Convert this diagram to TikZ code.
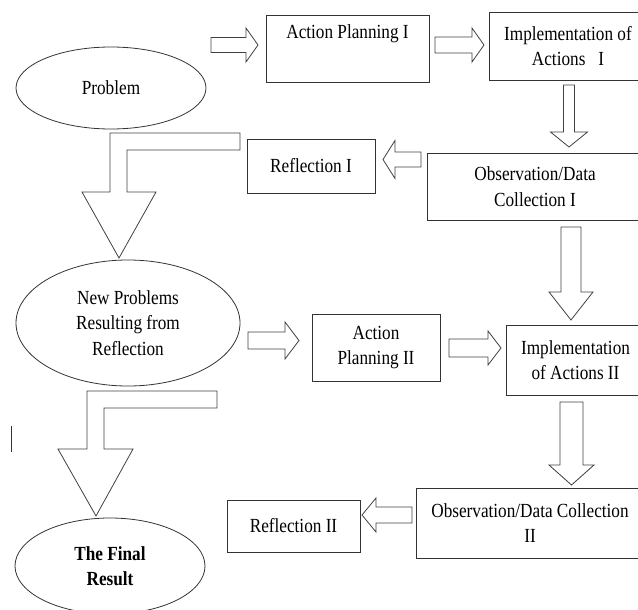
\documentclass[tikz,border=0pt]{standalone}
\usepackage{fontspec}
\setmainfont{Liberation Serif}[FakeStretch=0.86]
\usetikzlibrary{shapes.geometric}

% hollow block arrow: start, angle, length, shaft half, head half, head length
\newcommand{\bigarrow}[6]{%
  \draw[arrowline, shift={#1}, rotate=#2] (0,-#4) -- ({#3-#6},-#4) -- ({#3-#6},-#5) -- (#3,0)
    -- ({#3-#6},#5) -- ({#3-#6},#4) -- (0,#4) -- cycle;}

\begin{document}
\begin{tikzpicture}[x=1pt, y=-1pt,
    font=\fontsize{20}{25.5}\selectfont,
    box/.style={rectangle, draw=black!80, line width=0.8pt, align=center, inner sep=0pt},
    oval/.style={ellipse, draw=black!80, line width=0.8pt, align=center, inner sep=0pt},
    arrowline/.style={draw=black!75, line width=0.8pt, line join=miter}]
    \useasboundingbox (0,0) rectangle (638,610);
    \clip (0,0) rectangle (638,610);
    % ovals
    \node[oval, minimum width=190pt, minimum height=82pt] (prob) at (111,88) {Problem};
    \node[oval, minimum width=224pt, minimum height=126pt] (newprob) at (128,323) {New Problems\\Resulting from\\Reflection};
    \node[oval, minimum width=190pt, minimum height=96pt, font=\fontsize{20}{25.5}\selectfont\bfseries] (final) at (110,566) {The Final\\Result};
    % first cycle
    \node[box, minimum width=163pt, minimum height=67pt] (plan1) at (347.5,48.5) {Action Planning I\\ \strut};
    \node[box, minimum width=158pt, minimum height=68pt] (impl1) at (568,46) {Implementation of\\Actions~~~I};
    \node[box, minimum width=216pt, minimum height=67pt] (obs1) at (535,186.5) {Observation/Data\\Collection I};
    \node[box, minimum width=128pt, minimum height=54pt] (refl1) at (311,166) {Reflection I};
    % second cycle
    \node[box, minimum width=128pt, minimum height=67pt] (plan2) at (376,347.5) {Action\\Planning II};
    \node[box, minimum width=139pt, minimum height=70pt] (impl2) at (575.5,360) {Implementation\\of Actions II};
    \node[box, minimum width=228pt, minimum height=70pt] (obs2) at (530,523) {Observation/Data Collection\\II};
    \node[box, minimum width=133pt, minimum height=52pt] (refl2) at (293.5,526) {Reflection II};
    % block arrows
    \bigarrow{(211,45)}{0}{47}{7.5}{17}{12}
    \bigarrow{(435,45)}{0}{49}{8}{17}{12}
    \bigarrow{(569,85)}{-90}{62}{5.5}{18.5}{15}
    \bigarrow{(421,159.5)}{180}{38}{7.5}{19}{12}
    \bigarrow{(571,227)}{-90}{93}{10}{22}{28}
    \bigarrow{(248,340.5)}{0}{51}{8.5}{18.5}{14}
    \bigarrow{(449,348)}{0}{52}{9}{17}{13}
    \bigarrow{(571.5,402)}{-90}{83}{11.5}{22.5}{20}
    \bigarrow{(412,515)}{180}{50}{8}{17}{14}
    % bent arrows on the left
    \draw[arrowline] (240,133) -- (110,133) -- (110,192) -- (82,192) -- (119,258) -- (156,192)
        -- (127,192) -- (127,150) -- (240,150) -- cycle;
    \draw[arrowline] (217,391) -- (87,391) -- (87,449) -- (58,449) -- (96,516) -- (133,449)
        -- (104,449) -- (104,408) -- (217,408) -- cycle;
    % stray mark
    \draw[black!80, line width=0.8pt] (11,426) -- (11,452);
\end{tikzpicture}
\end{document}
